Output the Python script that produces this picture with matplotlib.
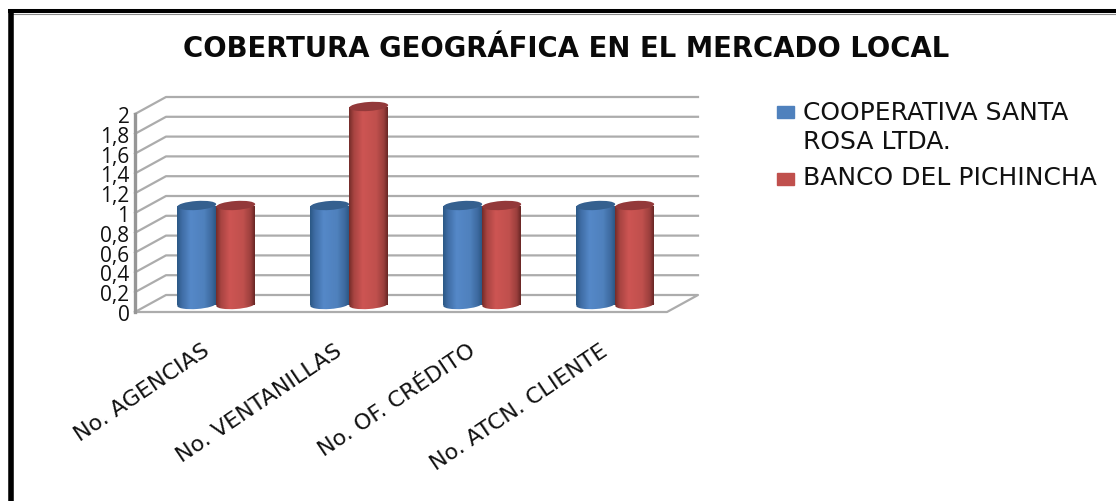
import numpy as np
import matplotlib
matplotlib.use("Agg")
import matplotlib.pyplot as plt
from matplotlib.patches import Ellipse, Rectangle
from matplotlib.colors import LinearSegmentedColormap
from matplotlib.transforms import IdentityTransform

categories = ["No. AGENCIAS", "No. VENTANILLAS", "No. OF. CRÉDITO", "No. ATCN. CLIENTE"]
cooperativa = [1, 1, 1, 1]
banco = [1, 2, 1, 1]
y_ticks = [0, 0.2, 0.4, 0.6, 0.8, 1, 1.2, 1.4, 1.6, 1.8, 2]
y_labels = ["0", "0,2", "0,4", "0,6", "0,8", "1", "1,2", "1,4", "1,6", "1,8", "2"]
title = "COBERTURA GEOGRÁFICA EN EL MERCADO LOCAL"
legend_labels = ["COOPERATIVA SANTA\nROSA LTDA.", "BANCO DEL PICHINCHA"]

W, H = 1116, 502
plt.rcParams["font.family"] = ["DejaVu Sans"]
fig = plt.figure(figsize=(W / 100, H / 100), dpi=100, facecolor="white")


def fx(px):
    return px / W


def fy(py):
    return 1 - py / H


# frame
fig.add_artist(plt.Line2D([fx(13), 1], [fy(14.6), fy(14.6)], color="#8a8a8a", lw=0.8))
fig.add_artist(plt.Line2D([fx(10.5), fx(10.5)], [0, fy(10)], color="black", lw=4.0, solid_capstyle="butt"))
fig.add_artist(plt.Line2D([fx(8), 1], [fy(12), fy(12)], color="black", lw=2.9, solid_capstyle="butt"))

L, R, B, T = 135, 667, 313, 115
ax = fig.add_axes([fx(L), fy(B), (R - L) / W, (B - T) / H])
ax.set_xlim(-0.5, 3.5)
ax.set_ylim(0, 2)
ax.patch.set_visible(False)
for s in ax.spines.values():
    s.set_visible(False)

px_x = (R - L) / 4
px_y = (B - T) / 2
DX, DY = 31 / px_x, 17 / px_y
wall = "#acacac"
for t in y_ticks[1:]:
    ax.plot([-0.5, -0.5 + DX, 3.5 + DX], [t, t + DY, t + DY], color=wall, lw=1.6, clip_on=False, zorder=1)
ax.plot([-0.5, -0.5 + DX, 3.5 + DX, 3.5, -0.5], [0, DY, DY, 0, 0], color=wall, lw=1.6, clip_on=False, zorder=1)
ax.plot([-0.5, -0.5], [0, 2], color="#969696", lw=2.4, clip_on=False, zorder=1)

ax.set_yticks(y_ticks, y_labels, fontfamily="Open Sans", fontsize=15, color="#111111")
ax.set_xticks(range(4), categories, fontsize=16, color="#111111", rotation=34,
              ha="right", rotation_mode="anchor")
ax.tick_params(length=0, pad=4)
ax.tick_params(axis="x", pad=20)

blue = LinearSegmentedColormap.from_list(
    "b", [(0, "#2c5886"), (0.12, "#3f6da5"), (0.35, "#5588c8"), (0.7, "#4f81bd"), (0.9, "#3d6a9f"), (1, "#2c5886")])
red = LinearSegmentedColormap.from_list(
    "r", [(0, "#752c2a"), (0.12, "#a84441"), (0.35, "#cd5553"), (0.7, "#c0504d"), (0.9, "#9b3f3d"), (1, "#6a2725")])
grad = np.linspace(0, 1, 64).reshape(1, -1)
bar_w = 39 / px_x
ell_h = 9
tilt = 4
tops = {"b": "#35608f", "r": "#93393a"}


def cylinder(xc, val, cmap, top, shift):
    x0 = xc + DX / 2 + shift - bar_w / 2 - 0.8 / px_x
    y0 = DY / 2 - 1 / px_y
    cx = x0 + bar_w / 2
    ax.bar(x0, val, width=bar_w, bottom=y0, align="edge", color="none", lw=0, zorder=3, clip_on=False)
    low = ax.transData.transform((cx, y0))
    high = ax.transData.transform((cx, y0 + val))
    wpx = 39
    # cylinder body, shaded across its width
    im = ax.imshow(grad, cmap=cmap, extent=(x0, x0 + bar_w, y0 - 10 / px_y, y0 + val),
                   aspect="auto", zorder=3.1)
    im.set_clip_path(Rectangle((x0, y0), bar_w, val, transform=ax.transData))
    im2 = ax.imshow(grad, cmap=cmap, extent=(x0, x0 + bar_w, y0 - 10 / px_y, y0 + 10 / px_y),
                    aspect="auto", zorder=3.05)
    im2.set_clip_path(Ellipse(low, wpx, ell_h, angle=tilt, transform=IdentityTransform()))
    ax.add_patch(Ellipse(high, wpx, ell_h, angle=tilt, facecolor=top, edgecolor="none",
                         transform=IdentityTransform(), zorder=3.2, clip_on=False))


for i in range(4):
    cylinder(i, cooperativa[i], blue, tops["b"], -bar_w / 2)
    cylinder(i, banco[i], red, tops["r"], bar_w / 2)
ax.set_xlim(-0.5, 3.5)
ax.set_ylim(0, 2)

fig.text(fx(566.5), fy(49), title, ha="center", va="center", fontsize=19.8, fontweight="bold", color="#0a0a0a")

# legend
for py, c in zip([113, 180], ["#4f81bd", "#c0504d"]):
    fig.add_artist(Rectangle((fx(777), fy(py + 6)), 17 / W, 12 / H, transform=fig.transFigure, color=c))
fig.text(fx(803), fy(127.5), legend_labels[0], ha="left", va="center", fontsize=18, color="#111111",
         linespacing=1.25)
fig.text(fx(803), fy(178), legend_labels[1], ha="left", va="center", fontsize=18, color="#111111")

fig.savefig("out.png", dpi=100)
